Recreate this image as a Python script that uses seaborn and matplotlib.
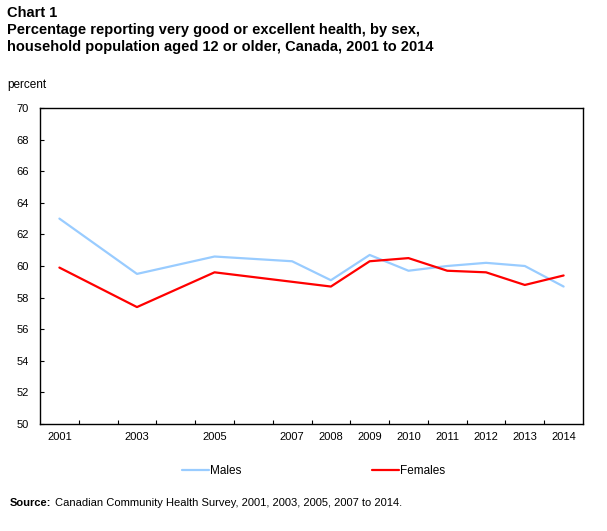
import pandas as pd
import matplotlib.pyplot as plt
import seaborn as sns

# values (percent)
years = [2001, 2003, 2005, 2007, 2008, 2009, 2010, 2011, 2012, 2013, 2014]
males = [63.0, 59.5, 60.6, 60.3, 59.1, 60.7, 59.7, 60.0, 60.2, 60.0, 58.7]
females = [59.9, 57.4, 59.6, 59.0, 58.7, 60.3, 60.5, 59.7, 59.6, 58.8, 59.4]
series = ['Males', 'Females']
colors = {'Males': '#99CCFF', 'Females': '#FF0000'}

df = pd.DataFrame({
    'year': years * 2,
    'value': males + females,
    'sex': ['Males'] * len(years) + ['Females'] * len(years),
})

sns.set_style('white')
plt.rcParams['font.family'] = ['Liberation Sans', 'DejaVu Sans']
plt.rcParams['text.color'] = 'black'
plt.rcParams['xtick.color'] = 'black'
plt.rcParams['ytick.color'] = 'black'

fig = plt.figure(figsize=(6.07, 5.31), dpi=100)
ax = fig.add_axes([40 / 607, 1 - 424 / 531, 543 / 607, 316 / 531])

sns.lineplot(data=df, x='year', y='value', hue='sex', hue_order=series,
             palette=colors, linewidth=1.6, ax=ax, legend=False)

ax.set_xlim(2000.5, 2014.5)
ax.set_ylim(50, 70)
ax.set_yticks(range(50, 71, 2))
ax.set_xticks(years)
ax.set_xticklabels([str(y) for y in years])
ax.set_xticks([y + 0.5 for y in range(2001, 2014)], minor=True)
ax.tick_params(axis='x', which='major', bottom=True, length=0, pad=6, labelsize=8)
ax.tick_params(axis='x', which='minor', bottom=True, direction='in', length=3, width=0.8)
ax.tick_params(axis='y', left=True, direction='in', length=3, width=0.8, pad=8, labelsize=8)
ax.set_xlabel('')
ax.set_ylabel('')
for s in ax.spines.values():
    s.set_visible(True)
    s.set_color('black')
    s.set_linewidth(1.0)

# titles
fig.text(7 / 607, 1 - 13 / 531, 'Chart 1', fontsize=10.5, fontweight='bold', va='center')
fig.text(7 / 607, 1 - 30 / 531,
         'Percentage reporting very good or excellent health, by sex,',
         fontsize=10.5, fontweight='bold', va='center')
fig.text(7 / 607, 1 - 47 / 531,
         'household population aged 12 or older, Canada, 2001 to 2014',
         fontsize=10.5, fontweight='bold', va='center')
fig.text(7 / 607, 1 - 85 / 531, 'percent', fontsize=8.5, va='center')

# legend, one entry each
for s, x0 in zip(series, [182, 372]):
    h = plt.Line2D([], [], color=colors[s], linewidth=1.6)
    fig.legend([h], [s], loc='center left', bbox_to_anchor=(x0 / 607, 1 - 471 / 531),
               frameon=False, fontsize=8.5, handlelength=2.3, handletextpad=0.1,
               borderpad=0, borderaxespad=0)

# source
fig.text(10 / 607, 1 - 503 / 531, 'Source:', fontsize=8, fontweight='bold', va='center')
fig.text(55 / 607, 1 - 503 / 531,
         'Canadian Community Health Survey, 2001, 2003, 2005, 2007 to 2014.',
         fontsize=8, va='center')

fig.savefig('out.png', dpi=100)
